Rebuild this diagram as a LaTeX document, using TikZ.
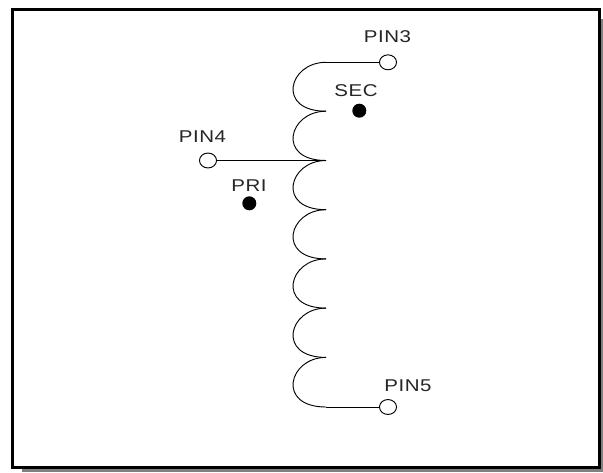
\documentclass[tikz,border=0pt]{standalone}
\usepackage{fontspec}
\setmainfont[FakeStretch=1.2,LetterSpace=3]{Liberation Sans}
\usetikzlibrary{shapes.geometric}
\tikzset{
  wire/.style={draw=black,line width=0.7pt},
  pinpad/.style={ellipse,draw=black,line width=0.7pt,fill=white,minimum width=12.8pt,minimum height=11.2pt,inner sep=0pt},
  dotmark/.style={circle,fill=black,minimum size=10.5pt,inner sep=0pt},
  lbl/.style={inner sep=0pt,font=\fontsize{12.8pt}{14pt}\selectfont,text=black!85}
}
\begin{document}
\begin{tikzpicture}[x=0.75pt,y=-0.75pt]
\useasboundingbox (0,0) rectangle (603,472);
\fill[white] (0,0) rectangle (603,472);
% shadow and frame
\fill[black!50] (601,19) rectangle (603,472);
\fill[black!50] (22,469) rectangle (603,472);
\draw[black,line width=2.4pt] (12.5,9.5) rectangle (599.5,467.5);
% cusps of the winding
\coordinate (c0) at (326,62.3);
\coordinate (c1) at (326,111.2);
\coordinate (c2) at (326,160.5);
\coordinate (c3) at (326,209.7);
\coordinate (c4) at (326,258.9);
\coordinate (c5) at (326,308.1);
\coordinate (c6) at (326,357.4);
\coordinate (c7) at (326,407);
% pins
\node[pinpad] (pin3) at (388,62.3) {};
\node[pinpad] (pin4) at (208,160.5) {};
\node[pinpad] (pin5) at (388,407) {};
% dots
\node[dotmark] (sec) at (359.3,110.7) {};
\node[dotmark] (pri) at (249.3,203.3) {};
% winding
\foreach \a/\b in {c0/c1,c1/c2,c2/c3,c3/c4,c4/c5,c5/c6,c6/c7}{
  \draw[wire] (\a) .. controls +(-37.5,0) and ([xshift=-37.5]\b) .. (\b);
}
\draw[wire] (pin3.west) -- (c0);
\draw[wire] (pin4.east) -- (c2);
\draw[wire] (pin5.west) -- (c7);
% labels
\node[lbl] (t3) at (387.5,37) {PIN3};
\node[lbl] (t4) at (202.5,137) {PIN4};
\node[lbl] (t5) at (408,386) {PIN5};
\node[lbl] (ts) at (356,91) {SEC};
\node[lbl] (tp) at (249,186) {PRI};
\end{tikzpicture}
\end{document}
